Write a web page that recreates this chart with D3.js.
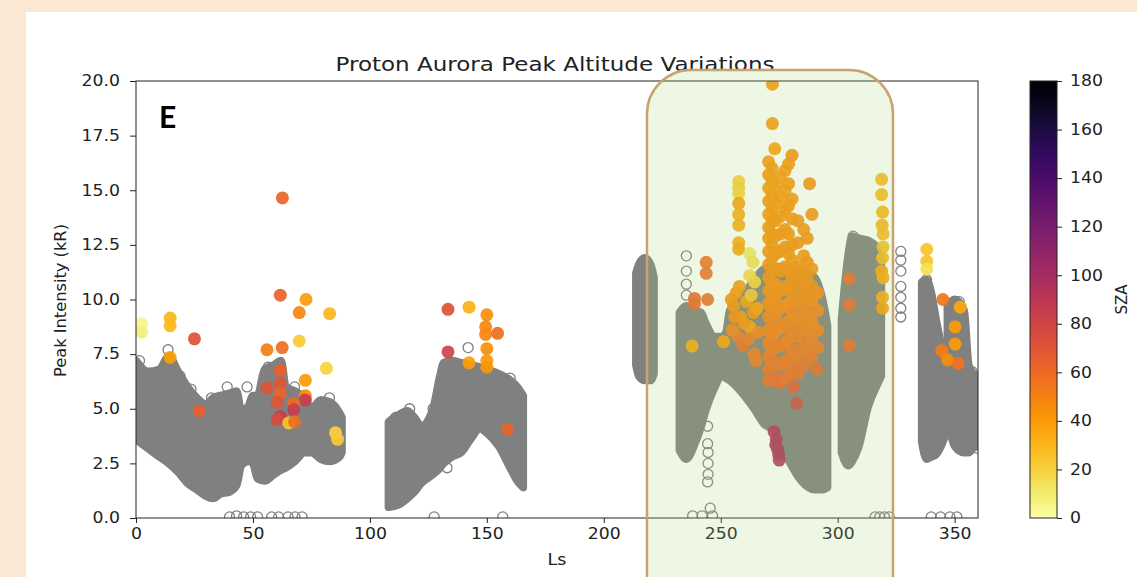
<!DOCTYPE html>
<html>
  <head>
    <meta charset="utf-8">
    <script src="https://d3js.org/d3.v7.min.js"></script>
    <style type="text/css">
      body { margin: 0; background-color: #fae8d5; }
      text { font-family: "DejaVu Sans", sans-serif; fill: #222; }
    </style>
  </head>
<body>
<script type="text/javascript">
// ---- data ----
var xTicks = [0, 50, 100, 150, 200, 250, 300, 350];
var yTicks = [0, 2.5, 5, 7.5, 10, 12.5, 15, 17.5, 20];
var szaTicks = [0, 20, 40, 60, 80, 100, 120, 140, 160, 180];

// gray point clouds, as envelopes [Ls, lowest peak, highest peak]
var cloudA = [[0, 3.6, 7.2], [5, 3.2, 6.7], [10, 2.8, 6.8], [14, 2.5, 7.4], [18, 2.1, 6.7], [22, 1.6, 6.0],
  [26, 1.3, 5.5], [30, 1.0, 5.2], [33, 0.9, 5.5], [36, 1.1, 5.6], [40, 1.2, 5.7], [43, 1.5, 5.8],
  [45, 2.4, 4.9], [48, 2.6, 5.1], [50, 2.5, 5.6], [52, 1.8, 5.6], [55, 1.7, 6.8], [59, 2.0, 7.0],
  [62, 2.2, 7.2], [64, 2.3, 6.0], [68, 2.6, 5.8], [72, 3.0, 5.5], [75, 3.0, 5.0], [79, 2.7, 5.4],
  [83, 2.6, 5.3], [87, 2.8, 4.8], [88, 3.0, 4.6]];
var cloudB = [[108, 0.5, 4.4], [112, 0.6, 4.7], [116, 0.9, 4.9], [119, 1.2, 4.6], [122, 1.6, 4.2],
  [127, 2.0, 5.0], [130, 2.3, 6.5], [131.5, 2.5, 7.1], [135, 2.8, 7.2], [139, 3.0, 7.1], [143, 3.6, 7.0],
  [147, 4.1, 6.9], [150, 3.9, 6.8], [155, 3.3, 6.6], [160, 2.3, 6.3], [163, 1.7, 6.0], [165.5, 1.4, 5.6]];
var cloudC = [[213.8, 7.0, 11.2], [215, 6.5, 11.6], [217.5, 6.3, 11.9], [220, 6.3, 11.6], [221.4, 6.6, 11.0]];
var cloudD = [[232.4, 3.1, 9.4], [235.3, 2.7, 9.7], [238.9, 3.4, 9.5], [241.6, 4.2, 9.4], [243.2, 4.8, 9.0],
  [247.5, 6.0, 8.3], [250.3, 6.5, 8.3], [252.3, 6.4, 8.5], [253.9, 6.3, 9.5], [258.6, 5.8, 10.0],
  [264.3, 5.0, 10.9], [268.6, 4.3, 11.4], [273.1, 4.0, 11.5], [278.8, 2.7, 11.5], [284.5, 1.7, 11.3],
  [290.2, 1.3, 11.0], [293.5, 1.3, 10.0], [295.6, 1.4, 8.8]];
var cloudE = [[301.7, 3.0, 9.1], [304.5, 2.4, 12.0], [306.2, 2.6, 12.9], [308.8, 3.2, 12.8], [313, 5.1, 12.7],
  [317.3, 6.2, 12.3], [318.6, 6.5, 11.8]];
var cloudF1 = [[336, 3.5, 10.8], [338, 2.7, 10.9], [340, 2.8, 10.3], [342, 2.9, 9.1], [345, 3.5, 7.5],
  [348, 4.5, 5.5]];
var cloudF2 = [[347, 4.6, 9.7], [350, 3.3, 10.0], [354, 3.0, 9.5], [356, 3.0, 7.0], [358, 3.2, 6.6], [360, 3.3, 6.5]];

// stray hollow gray points [Ls, peak intensity]
var strays = [[1.5, 7.2], [13.7, 7.7], [18.8, 6.5], [23.5, 5.9], [25.5, 5.4], [32.3, 5.5], [39, 6.0],
  [47.5, 6.0], [56.5, 6.9], [61, 7.0], [67.8, 6.0], [82.7, 5.5],
  [40, 0.05], [43, 0.1], [46, 0.05], [49, 0.05], [52, 0.05], [58, 0.05], [61, 0.05], [65, 0.05], [68, 0.05], [71, 0.05],
  [111, 4.6], [117, 5.0], [127, 5.0], [133, 2.3], [142, 7.8], [160, 6.4], [127.5, 0.05], [156.8, 0.05],
  [235.3, 12.0], [235.3, 11.3], [235.3, 10.7], [235.3, 10.2], [244.4, 4.2], [244.4, 3.4], [244.6, 3.0],
  [244.6, 2.5], [244.6, 2.0], [244.4, 1.65], [238, 0.1], [242, 0.1], [245.5, 0.45], [246.5, 0.1],
  [306.6, 12.9], [327, 12.2], [327, 11.8], [327, 11.3], [327, 10.6], [327, 10.1], [327, 9.6], [327, 9.2],
  [316, 0.05], [318, 0.05], [320, 0.05], [322, 0.05],
  [338, 10.9], [348.8, 9.6], [352, 9.9], [357.4, 6.7], [359.5, 3.2],
  [340, 0.05], [344, 0.05], [348, 0.05], [351, 0.05]];

// coloured points [Ls, peak intensity, SZA]
var dotsEarly = [[2.4, 8.9, 5], [2.4, 8.5, 8], [14.6, 9.15, 30], [14.6, 8.8, 30], [14.6, 7.35, 38],
  [25, 8.2, 72], [27, 4.9, 65], [62.6, 14.65, 62], [61.7, 10.2, 63], [72.7, 10.0, 40], [69.8, 9.4, 48],
  [82.8, 9.35, 30], [56, 7.7, 52], [62.5, 7.8, 58], [69.8, 8.1, 22], [81.4, 6.85, 20], [61.7, 6.75, 65],
  [61.7, 6.15, 70], [56, 5.95, 70], [61.7, 5.7, 62], [60.3, 5.3, 70], [72.4, 6.3, 40], [72.4, 5.6, 45],
  [72.4, 5.4, 85], [67.4, 5.25, 60], [67.4, 4.95, 85], [61.7, 4.65, 85], [60.3, 4.5, 75], [65.3, 4.35, 25],
  [67.8, 4.4, 58], [85.3, 3.9, 20], [86.2, 3.6, 22]];
var dotsMid = [[133.4, 9.55, 72], [142.4, 9.65, 32], [133.4, 7.6, 80], [142.4, 7.1, 38], [150, 9.3, 45],
  [149.5, 8.75, 48], [149.5, 8.4, 48], [154.6, 8.45, 58], [150, 7.75, 45], [150, 7.2, 42], [150, 6.9, 42],
  [158.8, 4.05, 62]];
var dotsSouth = [[272.1, 19.85, 42], [272.1, 18.05, 42], [273.1, 16.9, 40], [280.5, 16.6, 45], [288, 15.3, 45],
  [257.7, 15.4, 22], [257.7, 15.1, 22], [257.7, 14.85, 20], [257.7, 14.4, 40], [257.7, 13.9, 35],
  [257.7, 13.4, 35], [257.7, 12.6, 35], [257.7, 12.3, 38],
  [262.4, 12.1, 12], [263.8, 11.7, 15], [262.4, 11.1, 18], [264.5, 10.8, 20],
  [243.8, 11.7, 58], [243.8, 11.2, 58], [238.8, 10.05, 62], [238.8, 9.8, 62], [244.4, 10.0, 60],
  [237.8, 7.87, 35], [251.2, 8.07, 38], [257.4, 8.3, 55], [256.6, 10.3, 45], [255.5, 9.7, 45],
  [258.5, 9.2, 42], [261, 9.9, 40], [262.4, 8.75, 38], [264.3, 7.5, 55], [262, 8.2, 55], [264, 9.4, 45],
  [254.5, 10.0, 45], [256, 9.2, 48], [258, 10.6, 42], [260, 8.9, 45], [263, 10.2, 25], [265.5, 9.6, 40],
  [266, 8.5, 50], [255, 8.6, 50], [259.5, 7.9, 58], [265, 7.2, 55],
  [270.5, 16.3, 42], [270.5, 15.7, 42], [270.5, 15.1, 42], [270.5, 14.5, 43], [270.5, 13.9, 43],
  [270.5, 13.3, 44], [270.5, 12.8, 44], [270.5, 12.2, 45], [270.5, 11.6, 45], [270.5, 11.0, 46],
  [270.5, 10.4, 47], [270.5, 9.8, 48], [270.5, 9.2, 50], [270.5, 8.6, 52], [270.5, 8.0, 54],
  [270.5, 7.4, 56], [270.5, 6.8, 58], [270.5, 6.3, 60],
  [272, 16.0, 42], [272, 15.4, 42], [272, 14.8, 43], [272, 14.2, 43], [272, 13.6, 44], [272, 13.0, 44],
  [272, 12.5, 45], [272, 11.9, 45], [272, 11.3, 46], [272, 10.7, 46], [272, 10.1, 48], [272, 9.5, 49],
  [272, 8.9, 51], [272, 8.3, 53], [272, 7.7, 55], [272, 7.1, 57], [272, 6.5, 60],
  [273.5, 15.2, 42], [273.5, 14.4, 42], [273.5, 13.6, 43], [273.5, 12.9, 44], [273.5, 12.1, 45],
  [273.5, 11.4, 45], [273.5, 10.7, 46], [273.5, 10.0, 47], [273.5, 9.3, 50], [273.5, 8.5, 52],
  [273.5, 7.8, 55], [273.5, 7.1, 58], [273.1, 6.3, 62],
  [275.5, 15.6, 42], [275.5, 14.7, 43], [275.5, 13.8, 43], [275.5, 13.0, 44], [275.5, 12.2, 45],
  [275.5, 11.3, 46], [275.5, 10.4, 47], [275.5, 9.6, 49], [275.5, 8.7, 52], [275.5, 7.9, 55],
  [275.5, 7.0, 58], [275.5, 6.2, 62],
  [277.5, 15.9, 42], [277.5, 15.0, 42], [277.5, 14.1, 43], [277.5, 13.2, 44], [277.5, 12.4, 45],
  [277.5, 11.5, 45], [277.5, 10.6, 47], [277.5, 9.7, 49], [277.5, 8.9, 52], [277.5, 8.0, 55],
  [277.5, 7.2, 57], [277.5, 6.4, 60],
  [279, 16.2, 43], [279, 15.3, 43], [279, 14.3, 44], [279, 13.0, 44], [279, 12.1, 45], [279, 11.3, 46],
  [279, 10.5, 47], [279, 9.8, 48], [279, 9.0, 51], [279, 8.2, 54], [279, 7.3, 57], [279, 6.5, 60],
  [280.5, 14.6, 43], [280.5, 13.7, 44], [280.5, 12.5, 45], [280.5, 11.8, 45], [280.5, 11.0, 46],
  [280.5, 10.2, 48], [280.5, 9.4, 50], [280.5, 8.6, 53], [280.5, 7.7, 56], [280.5, 6.9, 58],
  [281, 6.0, 68], [282.5, 5.25, 78],
  [283, 13.6, 44], [283, 12.6, 45], [283, 11.5, 46], [283, 10.7, 47], [283, 9.9, 48], [283, 9.1, 50],
  [283, 8.3, 53], [283, 7.4, 56], [283, 6.6, 60],
  [285.5, 13.2, 44], [285.5, 12.0, 45], [285.5, 11.2, 46], [285.5, 10.4, 48], [285.5, 9.6, 50],
  [285.5, 8.8, 52], [285.5, 7.9, 55], [285.5, 7.0, 58],
  [287, 12.8, 45], [287, 11.7, 46], [287, 10.9, 47], [287, 10.1, 48], [287, 9.3, 50], [287, 8.5, 53],
  [287, 7.6, 56],
  [289, 13.9, 45], [289, 11.4, 46], [289, 10.6, 47], [289, 9.9, 48], [289, 9.0, 50], [289, 8.2, 53],
  [289, 7.3, 57], [291.5, 10.3, 48], [291.5, 9.5, 50], [291.5, 8.6, 52], [291.5, 7.8, 55], [291.1, 6.8, 62],
  [272.8, 3.95, 95], [273.8, 3.6, 95], [273.5, 3.35, 96], [274.3, 3.15, 95], [274.8, 2.9, 96], [275, 2.65, 95],
  [305, 10.95, 60], [305, 9.75, 60], [305, 7.9, 60],
  [318.8, 15.5, 30], [318.8, 14.8, 30], [319.2, 14.0, 32], [319, 13.4, 32], [319.4, 13.0, 30],
  [319.4, 12.4, 28], [319.2, 11.9, 30], [318.8, 11.3, 38], [319.4, 11.0, 35], [319.2, 10.1, 35],
  [319.2, 9.6, 40]];
var dotsLate = [[338.1, 12.3, 25], [338.1, 11.75, 25], [338.1, 11.4, 15], [345, 10.0, 55], [352.4, 9.65, 35],
  [350.2, 8.75, 40], [350.2, 7.96, 40], [344.5, 7.65, 52], [347, 7.23, 45], [351.5, 7.08, 55]];

// ---- layout ----
var W = 1137, H = 577;
var plot = {left: 136, top: 81, right: 978, bottom: 518};

var svg = d3.select("body").append("svg")
    .attr("width", W).attr("height", H);

// white figure panel on the beige page
svg.append("rect").attr("x", 26).attr("y", 12).attr("width", W - 26).attr("height", H - 12)
    .attr("fill", "#ffffff");

var x = d3.scaleLinear().domain([0, 360]).range([plot.left, plot.right]);
var y = d3.scaleLinear().domain([0, 20]).range([plot.bottom, plot.top]);
var sza = function(v) { return d3.interpolateInferno(1 - v / 180); };

// the source figure is slightly stretched sideways, so widen labels a bit
function widen(sel, k) {
  sel.each(function() {
    var w = this.getComputedTextLength();
    d3.select(this).attr("textLength", w * k).attr("lengthAdjust", "spacingAndGlyphs");
  });
}

var defs = svg.append("defs");
defs.append("clipPath").attr("id", "plotclip").append("rect")
    .attr("x", plot.left).attr("y", plot.top)
    .attr("width", plot.right - plot.left).attr("height", plot.bottom - plot.top);

var marks = svg.append("g").attr("clip-path", "url(#plotclip)");

// gray clouds drawn as envelopes
var area = d3.area()
    .x(function(d) { return x(d[0]); })
    .y0(function(d) { return y(d[1]); })
    .y1(function(d) { return y(d[2]); })
    .curve(d3.curveMonotoneX);

[cloudA, cloudB, cloudC, cloudD, cloudE, cloudF1, cloudF2].forEach(function(c) {
  marks.append("path").datum(c)
      .attr("d", area)
      .attr("fill", "#808080")
      .attr("stroke", "#808080")
      .attr("stroke-width", 8)
      .attr("stroke-linejoin", "round");
});

// hollow strays
marks.selectAll("circle.stray").data(strays).enter().append("circle")
    .attr("class", "stray")
    .attr("cx", function(d) { return x(d[0]); })
    .attr("cy", function(d) { return y(d[1]); })
    .attr("r", 5)
    .attr("fill", "none")
    .attr("stroke", "#808080")
    .attr("stroke-width", 1.3);

// coloured points
var dots = dotsEarly.concat(dotsMid, dotsSouth, dotsLate);
marks.selectAll("circle.dot").data(dots).enter().append("circle")
    .attr("class", "dot")
    .attr("cx", function(d) { return x(d[0]); })
    .attr("cy", function(d) { return y(d[1]); })
    .attr("r", 6.5)
    .attr("fill", function(d) { return sza(d[2]); })
    .attr("opacity", 0.92);

// axes
var xAxis = svg.append("g").attr("transform", "translate(0," + plot.bottom + ")")
    .call(d3.axisBottom(x).tickValues(xTicks).tickSize(5).tickPadding(5).tickFormat(d3.format("d")));
var yAxis = svg.append("g").attr("transform", "translate(" + plot.left + ",0)")
    .call(d3.axisLeft(y).tickValues(yTicks).tickSize(6).tickPadding(10).tickFormat(d3.format(".1f")));
[xAxis, yAxis].forEach(function(a) {
  a.select(".domain").remove();
  a.selectAll("line").attr("stroke", "#222");
  a.selectAll("text").style("font-size", "15px").style("fill", "#222")
      .style("font-family", "DejaVu Sans");
  widen(a.selectAll("text"), 1.15);
});

svg.append("rect")
    .attr("x", plot.left).attr("y", plot.top)
    .attr("width", plot.right - plot.left).attr("height", plot.bottom - plot.top)
    .attr("fill", "none").attr("stroke", "#222").attr("stroke-width", 1);

// titles
svg.append("text").attr("x", (plot.left + plot.right) / 2 - 2).attr("y", 71)
    .attr("text-anchor", "middle").style("font-size", "19px")
    .attr("textLength", 439).attr("lengthAdjust", "spacingAndGlyphs")
    .text("Proton Aurora Peak Altitude Variations");
svg.append("text").attr("x", 557).attr("y", 565)
    .attr("text-anchor", "middle").style("font-size", "15px")
    .attr("textLength", 19).attr("lengthAdjust", "spacingAndGlyphs").text("Ls");
svg.append("text").attr("transform", "translate(66," + ((plot.top + plot.bottom) / 2 + 1) + ") rotate(-90)")
    .attr("text-anchor", "middle").style("font-size", "15px")
    .attr("textLength", 153).attr("lengthAdjust", "spacingAndGlyphs").text("Peak Intensity (kR)");
svg.append("text").attr("x", 159).attr("y", 128)
    .style("font-family", "Lato").style("font-weight", "bold").style("font-size", "30px")
    .style("fill", "#000").text("E");

// highlight box over the southern summer season
svg.append("rect")
    .attr("x", 647).attr("y", 70).attr("width", 246).attr("height", 560)
    .attr("rx", 44).attr("ry", 44)
    .attr("fill", "rgb(168,214,118)").attr("fill-opacity", 0.2)
    .attr("stroke", "#c9a36e").attr("stroke-width", 2.5);

// colour bar
var cb = {x: 1030, w: 27};
var grad = defs.append("linearGradient").attr("id", "szagrad")
    .attr("x1", 0).attr("y1", 1).attr("x2", 0).attr("y2", 0);
d3.range(0, 181, 10).forEach(function(v) {
  grad.append("stop").attr("offset", v / 180).attr("stop-color", sza(v));
});
var cbScale = d3.scaleLinear().domain([0, 180]).range([plot.bottom, plot.top]);
svg.append("rect").attr("x", cb.x).attr("y", plot.top)
    .attr("width", cb.w).attr("height", plot.bottom - plot.top)
    .attr("fill", "url(#szagrad)").attr("stroke", "#222").attr("stroke-width", 1);
var cbAxis = svg.append("g").attr("transform", "translate(" + (cb.x + cb.w) + ",0)")
    .call(d3.axisRight(cbScale).tickValues(szaTicks).tickSize(5).tickPadding(8));
cbAxis.select(".domain").remove();
cbAxis.selectAll("line").attr("stroke", "#222");
cbAxis.selectAll("text").style("font-size", "15px").style("fill", "#222")
    .style("font-family", "DejaVu Sans");
widen(cbAxis.selectAll("text"), 1.15);
svg.append("text").attr("transform", "translate(1127," + (plot.top + plot.bottom) / 2 + ") rotate(-90)")
    .attr("text-anchor", "middle").style("font-size", "15px").text("SZA");
</script>
</body>
</html>
